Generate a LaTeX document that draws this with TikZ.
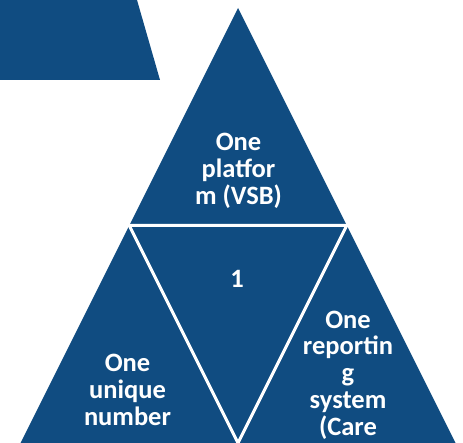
\documentclass[tikz,border=0pt]{standalone}
\usepackage{fontspec}
\setmainfont{Carlito}
\usetikzlibrary{calc}
\definecolor{vsbblue}{RGB}{16,76,129}
\begin{document}
\begin{tikzpicture}[x=1pt,y=-1pt,
    tritext/.style={text=white,font=\bfseries\fontsize{26.5}{26.7}\selectfont,
        align=center,inner sep=0pt}]
    \useasboundingbox (0,0) rectangle (463,443);
    \clip (0,0) rectangle (463,443);
    \fill[vsbblue] (0,0) -- (137,0) -- (160,80) -- (0,80) -- cycle;
    % big triangle, split in four by white lines
    \coordinate (apex) at (238,8);
    \coordinate (left) at (20.5,443);
    \coordinate (right) at (455.5,443);
    \coordinate (ml) at ($(apex)!.5!(left)$);
    \coordinate (mr) at ($(apex)!.5!(right)$);
    \coordinate (mb) at ($(left)!.5!(right)$);
    \fill[vsbblue] (apex) -- (left) -- (right) -- cycle;
    \draw[white,line width=3pt] (ml) -- (mr) -- (mb) -- cycle;
    \node[tritext] (platform) at (238.5,171) {One\\platfor\\m (VSB)};
    \node[tritext] (one) at (237,278.6) {1};
    \node[tritext] (number) at (127.5,390) {One\\unique\\number};
    \node[tritext] (reporting) at (348,375) {One\\reportin\\g\\system\\(Care};
\end{tikzpicture}
\end{document}
